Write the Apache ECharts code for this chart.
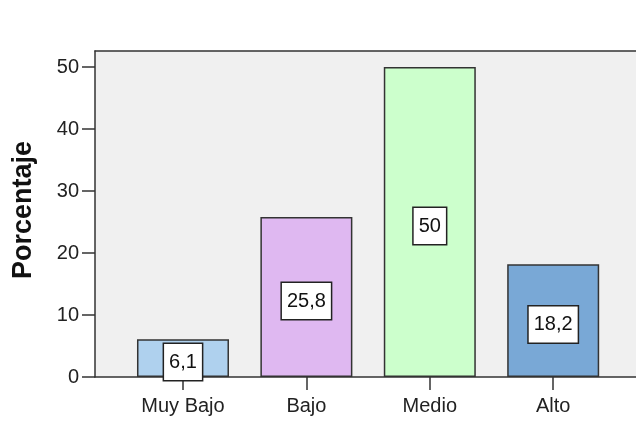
<!DOCTYPE html>
<html>
<head>
<meta charset="utf-8">
<script src="https://cdn.jsdelivr.net/npm/echarts@6/dist/echarts.min.js"></script>
<style>
html,body{margin:0;padding:0;background:#fff;}
#c{width:636px;height:432px;}
</style>
</head>
<body>
<div id="c"></div>
<script>
const categories = ['Muy Bajo', 'Bajo', 'Medio', 'Alto'];
const values = [6.1, 25.8, 50, 18.2];
const barColors = ['#afd1ee', '#dfb8f1', '#ccffcc', '#79a8d6'];
const yTicks = [0, 10, 20, 30, 40, 50];
const yName = 'Porcentaje';

const positions = categories.map((c, i) => i + 1);
const font = "'Liberation Sans', Arial, sans-serif";
const lineCol = '#333';

const chart = echarts.init(document.getElementById('c'));
chart.setOption({
  animation: false,
  backgroundColor: '#ffffff',
  grid: {
    left: 95, top: 51, bottom: 55, right: 0,
    show: true, backgroundColor: '#f0f0f0', borderWidth: 0
  },
  xAxis: [{
    type: 'value',
    min: 0.287, max: 4.671,
    splitLine: { show: false },
    axisLine: { show: true, onZero: false, lineStyle: { color: lineCol, width: 1.5 } },
    axisTick: { show: true, length: 13, customValues: positions, lineStyle: { color: lineCol, width: 1.5 } },
    axisLabel: {
      customValues: positions,
      margin: 19,
      fontSize: 20, fontFamily: font, color: '#222',
      formatter: v => categories[Math.round(v) - 1] || ''
    }
  }, {
    type: 'value',
    position: 'top',
    min: 0.287, max: 4.671,
    splitLine: { show: false },
    axisLine: { show: true, onZero: false, lineStyle: { color: lineCol, width: 1.5 } },
    axisTick: { show: false },
    axisLabel: { show: false }
  }],
  yAxis: {
    type: 'value',
    min: 0, max: 52.6,
    name: yName,
    nameLocation: 'middle',
    nameGap: 58,
    nameTextStyle: { fontSize: 27, fontWeight: 'bold', fontFamily: font, color: '#111', padding: [0, 0, 0, 8] },
    splitLine: { show: false },
    axisLine: { show: true, lineStyle: { color: lineCol, width: 1.5 } },
    axisTick: { show: true, length: 13, customValues: yTicks, lineStyle: { color: lineCol, width: 1.5 } },
    axisLabel: { customValues: yTicks, margin: 16, fontSize: 20, fontFamily: font, color: '#222' }
  },
  series: [{
    type: 'bar',
    xAxisIndex: 0,
    barWidth: 92,
    data: values.map((v, i) => ({
      value: [positions[i], v],
      itemStyle: { color: barColors[i], borderColor: lineCol, borderWidth: 1.5 }
    })),
    label: {
      show: true,
      position: 'inside',
      offset: [0, 4],
      formatter: p => String(p.value[1]).replace('.', ','),
      fontSize: 20, fontFamily: font, color: '#111',
      lineHeight: 22,
      backgroundColor: '#ffffff',
      borderColor: '#222', borderWidth: 1.5,
      padding: [7, 5, 7, 5]
    }
  }]
});
</script>
</body>
</html>
